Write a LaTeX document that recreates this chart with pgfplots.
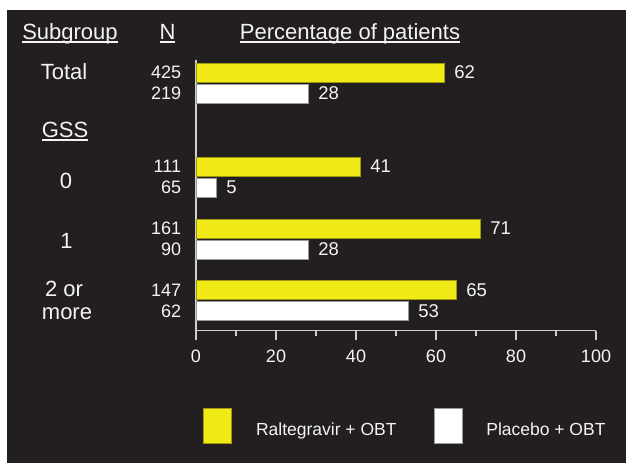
\documentclass[border=0pt]{standalone}
\usepackage{pgfplots}
\pgfplotsset{compat=1.18}
\usepackage{fontspec}
\setmainfont{Liberation Sans}
\definecolor{bg}{HTML}{231F20}
\definecolor{ylw}{HTML}{F2EA16}
\definecolor{txt}{HTML}{F4F4F4}
\definecolor{axc}{HTML}{CFCFCF}
\newcommand{\ul}[1]{\setbox0\hbox{#1}\rlap{\color{txt}\rule[-3.6pt]{\wd0}{1.8pt}}\box0}
\newcommand{\hfont}{\fontsize{22}{26}\selectfont}
\newcommand{\nfont}{\fontsize{18}{22}\selectfont}
\newcommand{\vfont}{\fontsize{18.5}{22}\selectfont}
\newcommand{\lfont}{\fontsize{17.5}{21}\selectfont}
\begin{document}
\begin{tikzpicture}[x=1pt,y=1pt]
\path[use as bounding box,fill=white] (0,0) rectangle (626,-463);
\fill[bg] (7,-10) rectangle (626,-463);
\begin{axis}[
  at={(196pt,-330.5pt)}, anchor=south west,
  scale only axis, width=400pt, height=270.5pt,
  xmin=0, xmax=100, ymin=-330.5, ymax=-60,
  clip=false,
  axis x line=bottom, axis y line=left,
  axis line style={-, draw=axc, line width=1.1pt},
  xtick={0,20,40,60,80,100}, minor x tick num=1,
  xtick align=outside,
  major tick length=9.5pt, minor tick length=5pt,
  every tick/.style={draw=axc, line width=1.1pt},
  ytick={-311,-290,-249.5,-228.5,-187.5,-166.5,-93.5,-72.5},
  yticklabels={62,147,90,161,65,111,219,425},
  ytick style={draw=none},
  /pgf/number format/assume math mode=true,
  tick label style={font=\nfont, text=txt},
  yticklabel style={inner sep=0pt, xshift=-10pt},
  xticklabel style={inner sep=0pt, yshift=-9.5pt},
  point meta=x,
  nodes near coords,
  every node near coord/.append style={anchor=west, inner sep=0pt, xshift=10pt, font=\vfont, text=txt},
  legend columns=2,
  legend style={at={(axis description cs:0.0175,-0.286)}, anchor=north west,
    draw=none, fill=none, text=txt, font=\lfont, inner sep=0pt,
    nodes={inner sep=0pt},
    /tikz/every odd column/.append style={column sep=24pt},
    /tikz/every even column/.append style={column sep=37pt}},
  legend image code/.code={\draw[#1] (0pt,-13.7pt) rectangle (28pt,21.3pt);},
]
\addplot[xbar, bar width=19, bar shift=0pt, fill=ylw, draw=ylw!65!black, line width=0.8pt]
  coordinates {(62,-72.5) (41,-166.5) (71,-228.5) (65,-290)};
\addlegendentry{Raltegravir + OBT}
\addplot[xbar, bar width=19, bar shift=0pt, fill=white, draw=gray!80, line width=0.8pt]
  coordinates {(28,-93.5) (5,-187.5) (28,-249.5) (53,-311)};
\addlegendentry{Placebo + OBT}
\end{axis}
\begin{scope}[every node/.style={inner sep=0pt, anchor=base, text=txt, font=\hfont}]
\node at (70,-39) {\ul{Subgroup}};
\node at (167.5,-39) {\ul{N}};
\node at (350,-39) {\ul{Percentage of patients}};
\node at (64,-79) {Total};
\node at (65,-137) {\ul{GSS}};
\node at (66,-188) {0};
\node at (66.5,-248) {1};
\node at (64,-296.5) {2 or};
\node at (67,-319) {more};
\end{scope}
\end{tikzpicture}
\end{document}
